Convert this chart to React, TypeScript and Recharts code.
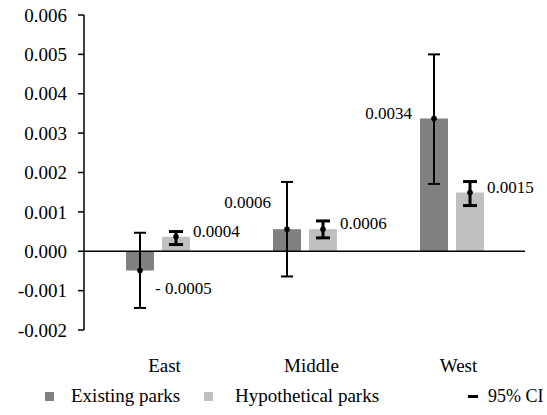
import React from "react";
import { Bar, BarChart, ErrorBar, LabelList, ReferenceLine, XAxis, YAxis } from "recharts";

const regions = ["East", "Middle", "West"];
const existingParks = [-0.00049, 0.00056, 0.00337];
const existingLower = [-0.00144, -0.00064, 0.00171];
const existingUpper = [0.00047, 0.00176, 0.005];
const hypotheticalParks = [0.00037, 0.00056, 0.00149];
const hypotheticalLower = [0.00017, 0.00034, 0.00116];
const hypotheticalUpper = [0.0005, 0.00077, 0.00177];
const yTicks = [-0.002, -0.001, 0, 0.001, 0.002, 0.003, 0.004, 0.005, 0.006];

const data = regions.map((region, i) => ({
  region,
  existing: existingParks[i],
  existingErr: [existingParks[i] - existingLower[i], existingUpper[i] - existingParks[i]],
  hypothetical: hypotheticalParks[i],
  hypotheticalErr: [
    hypotheticalParks[i] - hypotheticalLower[i],
    hypotheticalUpper[i] - hypotheticalParks[i],
  ],
}));

const FONT = "'Liberation Serif', 'DejaVu Serif', 'Times New Roman', Times, serif";
const EXISTING_COLOR = "#808080";
const HYPOTHETICAL_COLOR = "#c0c0c0";

const fmt = (v: number) => (v < 0 ? `- ${Math.abs(v).toFixed(4)}` : v.toFixed(4));

// where the value label of each "existing" bar sits, by category index
const existingPlacement = [
  { side: "right", gap: 1, from: "bottom", dy: 23 },
  { side: "left", gap: 2, from: "top", dy: -21 },
  { side: "left", gap: 8, from: "top", dy: 0 },
];

function makeLabel(kind: "existing" | "hypothetical") {
  return (props: any) => {
    const x = Number(props.x);
    const y = Number(props.y);
    const w = Number(props.width);
    const h = Number(props.height);
    const value = Number(props.value);
    const index = Number(props.index);
    const top = Math.min(y, y + h);
    const bottom = Math.max(y, y + h);
    const cx = x + w / 2;
    const dotY = value < 0 ? bottom : top;

    let tx = x + w + 3;
    let ty = top;
    let anchor: "start" | "end" = "start";
    if (kind === "existing") {
      const p = existingPlacement[index];
      if (p.side === "left") {
        tx = x - p.gap;
        anchor = "end";
      } else {
        tx = x + w + p.gap;
      }
      ty = (p.from === "top" ? top : bottom) + p.dy;
    }

    return (
      <g>
        <circle cx={cx} cy={dotY} r={2.8} fill="#000" />
        <text x={tx} y={ty} textAnchor={anchor} style={{ fontSize: 17, fontFamily: FONT }} fill="#000">
          {fmt(value)}
        </text>
      </g>
    );
  };
}

function CategoryTick(props: any) {
  const { x, y, payload } = props;
  return (
    <text x={Number(x) + 7} y={Number(y) + 34} textAnchor="middle" style={{ fontSize: 19, fontFamily: FONT }} fill="#000">
      {payload.value}
    </text>
  );
}

function LegendRow() {
  const text: React.CSSProperties = {
    position: "absolute",
    top: 384,
    fontSize: 19,
    lineHeight: "24px",
    fontFamily: FONT,
    color: "#000",
    whiteSpace: "nowrap",
  };
  return (
    <>
      <div style={{ position: "absolute", left: 45, top: 391.5, width: 9, height: 9, background: EXISTING_COLOR }} />
      <span style={{ ...text, left: 71 }}>Existing parks</span>
      <div style={{ position: "absolute", left: 204, top: 391.5, width: 9, height: 9, background: HYPOTHETICAL_COLOR }} />
      <span style={{ ...text, left: 235 }}>Hypothetical parks</span>
      <div style={{ position: "absolute", left: 468, top: 394.5, width: 10, height: 3, background: "#000" }} />
      <span style={{ ...text, left: 488, fontSize: 18 }}>95% CI</span>
    </>
  );
}

export default function App() {
  return (
    <div
      style={{
        position: "absolute",
        left: 0,
        top: 0,
        width: 547,
        height: 415,
        background: "#fff",
        overflow: "hidden",
        fontFamily: FONT,
      }}
    >
      <BarChart
        width={547}
        height={415}
        data={data}
        margin={{ top: 15, right: 22, left: 0, bottom: 45 }}
        barSize={28}
        barGap={8}
        style={{ fontFamily: FONT }}
      >
        <XAxis dataKey="region" axisLine={false} tickLine={false} height={40} tick={<CategoryTick />} interval={0} />
        <YAxis
          width={84}
          domain={[-0.002, 0.006]}
          ticks={yTicks}
          interval={0}
          tickFormatter={(v) => Number(v).toFixed(3)}
          tick={{ fill: "#000", fontSize: 19, fontFamily: FONT }}
          tickSize={6}
          tickMargin={11}
          axisLine={{ stroke: "#000", strokeWidth: 1.5 }}
          tickLine={{ stroke: "#000", strokeWidth: 1.5 }}
        />
        <Bar dataKey="existing" fill={EXISTING_COLOR} isAnimationActive={false}>
          <ErrorBar dataKey="existingErr" width={6} strokeWidth={2} stroke="#000" />
          <LabelList dataKey="existing" content={makeLabel("existing")} />
        </Bar>
        <Bar dataKey="hypothetical" fill={HYPOTHETICAL_COLOR} isAnimationActive={false}>
          <ErrorBar dataKey="hypotheticalErr" width={7} strokeWidth={3} stroke="#000" />
          <LabelList dataKey="hypothetical" content={makeLabel("hypothetical")} />
        </Bar>
        <ReferenceLine y={0} stroke="#000" strokeWidth={1.5} />
      </BarChart>
      <LegendRow />
    </div>
  );
}
